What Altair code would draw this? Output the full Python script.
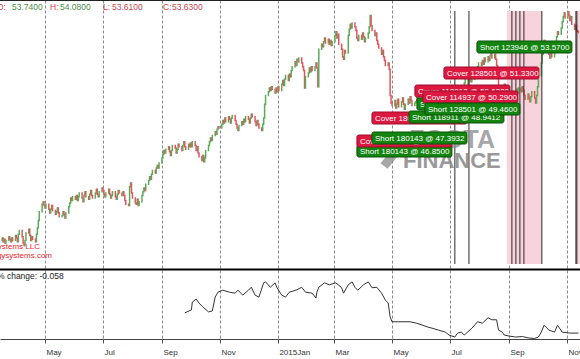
import altair as alt
import pandas as pd

# ---------------- data ----------------
month_keys = ["2014-03", "2014-04", "2014-05", "2014-06", "2014-07", "2014-08", "2014-09",
              "2014-10", "2014-11", "2014-12", "2015-01", "2015-02", "2015-03", "2015-04",
              "2015-05", "2015-06", "2015-07", "2015-08", "2015-09", "2015-10", "2015-11"]

closes_by_month = [
    [37.0, 37.2, 36.9, 37.1, 36.8, 37.0, 37.3, 37.1, 36.9, 37.2, 37.0, 37.4],
    [37.2, 36.9, 37.5, 37.8, 37.3, 36.8, 36.6, 37.0, 37.6, 37.9, 37.4, 37.0, 37.3, 37.1, 36.9,
     37.5, 38.0, 38.6, 39.3, 39.9, 40.1, 39.8],
    [39.6, 39.9, 39.5, 39.2, 39.5, 39.8, 39.4, 39.1, 39.3, 39.6, 39.2, 38.9, 39.0, 39.3, 39.1,
     38.8, 39.2, 39.7, 40.0, 40.4, 40.2, 40.5],
    [40.3, 40.6, 40.2, 40.5, 40.8, 40.4, 40.1, 40.6, 40.9, 40.5, 40.3, 40.7, 41.0, 40.6, 40.4,
     40.8, 41.1, 40.7, 40.5, 40.9, 41.2],
    [41.0, 40.7, 40.5, 40.8, 41.1, 40.7, 40.4, 40.6, 40.9, 40.5, 40.3, 40.7, 41.0, 40.8, 40.6,
     40.9, 40.6, 40.2, 39.9, 39.8, 41.3, 41.6, 40.8],
    [40.4, 40.0, 39.9, 40.3, 39.8, 40.1, 40.6, 40.9, 41.2, 41.0, 41.5, 41.8, 42.1, 41.9, 42.3,
     42.6, 42.4, 42.8, 43.0, 42.8, 43.2],
    [43.6, 43.9, 44.2, 44.0, 44.3, 44.5, 44.1, 43.8, 44.2, 44.6, 44.4, 44.0, 44.3, 44.7, 44.5,
     44.2, 44.6, 44.9, 44.5, 44.3, 44.7, 44.5],
    [44.8, 44.5, 44.9, 44.6, 44.2, 44.5, 44.0, 43.7, 43.4, 43.8, 43.3, 43.6, 44.2, 44.6, 44.9,
     45.2, 45.0, 45.4, 45.7, 45.5, 45.9, 46.1, 46.0],
    [46.3, 46.6, 46.4, 46.8, 46.5, 46.9, 46.7, 46.4, 46.8, 47.0, 46.6, 46.3, 46.0, 45.8, 46.2,
     46.5, 46.3, 46.7, 46.5, 46.9],
    [46.7, 46.4, 46.8, 47.1, 46.9, 46.5, 46.2, 46.6, 46.3, 46.0, 45.8, 46.3, 46.8, 47.9, 48.6,
     48.9, 49.2, 49.0, 49.3, 49.1, 48.8, 49.2, 48.9],
    [49.3, 49.0, 49.5, 49.8, 49.4, 49.9, 50.2, 49.8, 50.3, 50.1, 50.6, 50.9, 51.3, 51.0, 51.5,
     51.3, 51.6, 51.2, 50.9, 50.6, 49.2, 50.1],
    [50.4, 50.8, 50.5, 50.9, 50.6, 50.9, 51.2, 50.8, 49.3, 52.3, 52.7, 52.5, 52.9, 53.2, 52.8,
     53.1, 52.7, 53.0, 52.6, 52.9],
    [53.4, 53.7, 53.2, 53.5, 52.7, 52.3, 51.7, 51.5, 52.2, 52.0, 53.4, 53.9, 54.3, 54.0, 54.4,
     54.1, 53.8, 53.2, 53.0, 53.4, 53.1, 53.6],
    [53.3, 52.9, 53.2, 53.6, 54.1, 55.0, 54.2, 53.8, 53.4, 53.6, 53.0, 52.7, 52.4, 51.9, 52.2,
     51.7, 51.4, 51.0, 51.2, 50.7, 48.6, 48.0],
    [47.8, 48.2, 47.6, 47.9, 48.3, 47.7, 48.1, 48.4, 47.9, 47.5, 47.9, 48.3, 48.0, 48.5, 48.2,
     47.8, 48.0, 48.1, 48.6, 48.3, 48.7],
    [48.4, 48.9, 48.5, 48.1, 48.6, 49.0, 48.7, 48.3, 48.8, 49.1, 48.6, 48.9, 49.2, 48.8, 48.4,
     48.0, 48.5, 48.9, 48.6, 48.2, 47.6, 47.9],
    [48.2, 48.5, 48.0, 47.6, 47.9, 47.3, 47.8, 48.4, 48.9, 49.3, 49.1, 49.6, 49.9, 49.5, 49.8,
     50.1, 49.7, 49.9, 50.3, 50.6, 50.4, 50.9, 51.2],
    [51.0, 51.4, 51.1, 51.6, 51.3, 51.7, 51.4, 51.8, 52.0, 51.6, 51.9, 51.5, 51.0, 50.2, 49.1,
     48.3, 47.9, 48.8, 49.5, 49.2, 48.9],
    [48.5, 48.9, 48.6, 48.2, 48.4, 48.7, 49.1, 48.8, 49.2, 48.9, 49.3, 49.0, 48.6, 48.3, 48.7,
     48.4, 48.1, 48.5, 48.9, 48.4, 48.0, 48.6],
    [49.3, 50.2, 51.2, 51.9, 52.6, 53.0, 52.7, 52.3, 51.9, 51.6, 52.0, 51.7, 52.2, 52.8, 53.3,
     53.7, 53.5, 54.0, 54.5, 54.9, 55.2, 54.8],
    [55.3, 55.0, 54.6, 54.9, 54.3, 53.9, 54.2, 53.8, 53.74, 53.63],
]
first_open = 36.8
series_start = "2014-03-14"
series_end = "2015-11-13"

header_names = ["O:", "H:", "L:", "C:"]
header_values = ["53.7400", "54.0800", "53.6100", "53.6300"]

tick_months = [(2014, 3), (2014, 5), (2014, 7), (2014, 9), (2014, 11), (2015, 1),
               (2015, 3), (2015, 5), (2015, 7), (2015, 9), (2015, 11)]

pct_dates = ["2014-09-25", "2014-10-02", "2014-10-03", "2014-10-07", "2014-10-10", "2014-10-14",
             "2014-10-20", "2014-10-24", "2014-10-27", "2014-10-30", "2014-11-04", "2014-11-11",
             "2014-11-17", "2014-11-20", "2014-11-25", "2014-12-01", "2014-12-04", "2014-12-08",
             "2014-12-12", "2014-12-17", "2014-12-19", "2014-12-24", "2014-12-29", "2014-12-31",
             "2015-01-05", "2015-01-09", "2015-01-13", "2015-01-20", "2015-01-26", "2015-01-30",
             "2015-02-06", "2015-02-10", "2015-02-11", "2015-02-13", "2015-02-19", "2015-02-24",
             "2015-03-03", "2015-03-09", "2015-03-11", "2015-03-16", "2015-03-20", "2015-03-23",
             "2015-03-26", "2015-04-01", "2015-04-06", "2015-04-10", "2015-04-15", "2015-04-20",
             "2015-04-24", "2015-04-27", "2015-04-29", "2015-05-01", "2015-05-08", "2015-05-20",
             "2015-05-27", "2015-06-08", "2015-06-12", "2015-06-19", "2015-06-26", "2015-06-30",
             "2015-07-06", "2015-07-09", "2015-07-13", "2015-07-16", "2015-07-24", "2015-07-30",
             "2015-08-04", "2015-08-10", "2015-08-14", "2015-08-19", "2015-08-21", "2015-08-25",
             "2015-08-27", "2015-09-01", "2015-09-08", "2015-09-15", "2015-09-22", "2015-09-28",
             "2015-10-02", "2015-10-05", "2015-10-08", "2015-10-13", "2015-10-19", "2015-10-22",
             "2015-10-27", "2015-11-04", "2015-11-13"]
pct_values = [-0.017, -0.011, 0.005, 0.011, 0.003, -0.005,
              -0.015, -0.013, 0.015, 0.025, 0.029, 0.025,
              0.023, 0.029, 0.019, 0.029, 0.035, 0.019,
              0.015, 0.044, 0.046, 0.035, 0.044, 0.034,
              0.019, 0.015, 0.025, 0.029, 0.035, 0.025,
              0.023, 0.013, 0.025, 0.035, 0.044, 0.040,
              0.044, 0.034, 0.023, 0.040, 0.046, 0.035,
              0.029, 0.040, 0.046, 0.034, 0.035, 0.023,
              0.009, 0.003, -0.025, -0.035, -0.035, -0.035,
              -0.038, -0.046, -0.048, -0.052, -0.056, -0.062,
              -0.066, -0.058, -0.056, -0.062, -0.048, -0.035,
              -0.038, -0.027, -0.031, -0.031, -0.052, -0.056,
              -0.062, -0.064, -0.066, -0.065, -0.068, -0.069,
              -0.066, -0.056, -0.042, -0.052, -0.056, -0.042,
              -0.056, -0.058, -0.058]
pct_caption = "% change: -0.058"

trade_dates = ["2015-07-06T02:00", "2015-07-20T22:00", "2015-09-04T02:00", "2015-09-08T07:00",
               "2015-09-12T12:00", "2015-09-16T17:00", "2015-10-05T14:00", "2015-11-10T10:00",
               "2015-11-11T10:00"]
shade_starts = ["2015-08-29T19:00", "2015-11-10T10:00"]
shade_ends = ["2015-10-05T14:00", "2015-11-14T17:00"]

# annotation boxes, listed bottom-most first; date/price = box top-left anchor
label_texts = ["Short 180143 @ 46.8500", "Cover 180143 @ 46.1200", "Short 180143 @ 47.3932",
               "Cover 180143 @ 47.9600", "Short 118911 @ 48.9412", "Short 114937 @ 48.7700",
               "Cover 118912 @ 50.6200", "Cover 114937 @ 50.2900", "Short 128501 @ 49.4600",
               "Cover 128501 @ 51.3300", "Short 123946 @ 53.5700"]
label_kinds = ["Short", "Cover", "Short", "Cover", "Short", "Short", "Cover", "Cover", "Short",
               "Cover", "Short"]
label_dates = ["2015-03-25T02:00", "2015-03-25T02:00", "2015-04-09T22:00", "2015-04-09T22:00",
               "2015-05-18T19:00", "2015-05-27T05:00", "2015-05-25T02:00", "2015-06-02T12:00",
               "2015-06-04T14:00", "2015-06-24T14:00", "2015-07-29T07:00"]
label_prices = [44.64, 45.44, 45.68, 47.28, 47.36, 48.40, 49.44, 48.96, 48.00, 50.88, 52.96]

company_lines = ["Technology Systems LLC", "www.technologysystems.com"]
watermark_lines = ["ZOOTA", "FINANCE"]

# ---------------- build tables ----------------
rows = []
prev = first_open
s0, s1 = pd.Timestamp(series_start), pd.Timestamp(series_end)
for key, vals in zip(month_keys, closes_by_month):
    per = pd.Period(key, freq="M")
    days = pd.bdate_range(max(per.start_time, s0), min(per.end_time.normalize(), s1))
    for d, c in zip(days, vals):
        rows.append({"date": d, "open": prev, "close": c, "dir": "up" if c >= prev else "down"})
        prev = c
candles = pd.DataFrame(rows)

pct_df = pd.DataFrame({"date": pd.to_datetime(pct_dates), "pct": pct_values})
trades_df = pd.DataFrame({"date": pd.to_datetime(trade_dates)})
shade_df = pd.DataFrame({"start": pd.to_datetime(shade_starts), "end": pd.to_datetime(shade_ends)})
labels_df = pd.DataFrame({"order": list(range(len(label_texts))), "text": label_texts,
                          "kind": label_kinds, "date": pd.to_datetime(label_dates),
                          "price": label_prices})

# ---------------- scales / axes ----------------
W, H = 580, 339
x_scale = alt.Scale(domain=[alt.DateTime(year=2014, month=3, date=14, hours=17),
                            alt.DateTime(year=2015, month=11, date=14, hours=17)])
x_axis = alt.Axis(
    values=[alt.DateTime(year=y, month=m, date=1) for y, m in tick_months],
    grid=True, gridDash=[3, 2], gridColor="#8a8a8a", gridWidth=1,
    labelExpr="month(datum.value) == 0 ? timeFormat(datum.value, '%Y%b') : timeFormat(datum.value, '%b')",
    labelAlign="left", labelBaseline="top", labelPadding=5, labelOffset=1,
    labelFontSize=8, labelFont="Liberation Sans", labelColor="#333333",
    labelFlush=False, labelOverlap=False, labelBound=False,
    tickSize=4, tickColor="#555555", domainColor="#444444", domainWidth=1, title=None)

price_scale = alt.Scale(domain=[29.12, 56.24], nice=False, zero=False)
pct_scale = alt.Scale(domain=[-0.07, 0.61783], nice=False, zero=False)


def X(field):
    return alt.X(field, type="temporal", scale=x_scale, axis=x_axis)


kind_fill = alt.Scale(domain=["Short", "Cover"], range=["#12840f", "#dc1840"])
kind_stroke = alt.Scale(domain=["Short", "Cover"], range=["#0a520a", "#9a0f2c"])

layers = []

# shaded periods
layers.append(alt.Chart(shade_df).mark_rect(color="#f9d3db").encode(
    x=X("start"), x2="end", y=alt.value(11), y2=alt.value(264)))

# candles
layers.append(alt.Chart(candles).mark_rule(strokeWidth=1.5, strokeCap="square").encode(
    x=X("date"),
    y=alt.Y("open:Q", scale=price_scale, axis=None), y2="close:Q",
    color=alt.Color("dir:N", scale=alt.Scale(domain=["up", "down"], range=["#5aab5a", "#e2545b"]),
                    legend=None)))

# trade lines
layers.append(alt.Chart(trades_df).mark_rule(color="#2b2b2b", strokeWidth=1).encode(
    x=X("date"), y=alt.value(11), y2=alt.value(264)))

# % change line
layers.append(alt.Chart(pct_df).mark_line(color="#333333", strokeWidth=1).encode(
    x=X("date"), y=alt.Y("pct:Q", scale=pct_scale, axis=None)))

# panel separator and top border
layers.append(alt.Chart(pd.DataFrame({"a": [0]})).mark_rule(color="black", strokeWidth=2).encode(
    x=alt.value(0), x2=alt.value(W), y=alt.value(269.5)))
layers.append(alt.Chart(pd.DataFrame({"a": [0]})).mark_rule(color="#222222", strokeWidth=1).encode(
    x=alt.value(0), x2=alt.value(W), y=alt.value(0.5)))

# header OHLC
head_x_names = [-3, 50, 103, 163]
head_x_vals = [12, 60, 112, 172]
val_colors = ["#4e8d4e", "#4e8d4e", "#c9474f", "#c9474f"]
for i in range(4):
    layers.append(alt.Chart(pd.DataFrame({"t": [header_names[i]]})).mark_text(
        align="left", baseline="alphabetic", fontSize=8.5, font="Liberation Sans",
        color="#e0343c").encode(x=alt.value(head_x_names[i]), y=alt.value(9.5), text="t:N"))
    layers.append(alt.Chart(pd.DataFrame({"t": [header_values[i]]})).mark_text(
        align="left", baseline="alphabetic", fontSize=8.5, font="Liberation Sans",
        color=val_colors[i]).encode(x=alt.value(head_x_vals[i]), y=alt.value(9.5), text="t:N"))

# company text (bottom-left, cut at the edge)
layers.append(alt.Chart(pd.DataFrame({"t": [company_lines[0]]})).mark_text(
    align="right", baseline="alphabetic", fontSize=8, font="Liberation Sans", color="#e8262e"
).encode(x=alt.value(40), y=alt.value(249), text="t:N"))
layers.append(alt.Chart(pd.DataFrame({"t": [company_lines[1]]})).mark_text(
    align="right", baseline="alphabetic", fontSize=8, font="Liberation Sans", color="#e8262e"
).encode(x=alt.value(52), y=alt.value(257.5), text="t:N"))

# watermark
layers.append(alt.Chart(pd.DataFrame({"t": [watermark_lines[0]]})).mark_text(
    align="right", baseline="alphabetic", fontSize=25, fontWeight="bold", font="Liberation Sans",
    color="#8a8a8a", opacity=0.75).encode(x=alt.value(495), y=alt.value(148), text="t:N"))
layers.append(alt.Chart(pd.DataFrame({"t": [watermark_lines[1]]})).mark_text(
    align="left", baseline="alphabetic", fontSize=22, fontWeight="bold", font="Liberation Sans",
    color="#808080", opacity=0.8).encode(x=alt.value(403), y=alt.value(167.5), text="t:N"))
layers.append(alt.Chart(pd.DataFrame({"a": [0]})).mark_rule(
    color="#8a8a8a", strokeWidth=9, opacity=0.75).encode(
    x=alt.value(384), x2=alt.value(398), y=alt.value(166), y2=alt.value(149)))

# annotation boxes
for i in range(len(label_texts)):
    sub = alt.Chart(labels_df).transform_filter(alt.datum.order == i)
    layers.append(sub.mark_rect(x2Offset=95, y2Offset=12, cornerRadius=2, strokeWidth=1).encode(
        x=X("date"), x2="date", y=alt.Y("price:Q", scale=price_scale, axis=None), y2="price:Q",
        fill=alt.Fill("kind:N", scale=kind_fill, legend=None),
        stroke=alt.Stroke("kind:N", scale=kind_stroke, legend=None)))
    layers.append(sub.mark_text(align="left", baseline="middle", dx=3, dy=6.5, fontSize=8,
                                font="Liberation Sans", color="white").encode(
        x=X("date"), y=alt.Y("price:Q", scale=price_scale, axis=None), text="text:N"))

# % change caption
layers.append(alt.Chart(pd.DataFrame({"t": [pct_caption]})).mark_text(
    align="left", baseline="alphabetic", fontSize=8.5, font="Liberation Sans", color="#222222"
).encode(x=alt.value(-3), y=alt.value(279), text="t:N"))

chart = alt.layer(*layers).resolve_scale(y="independent").properties(
    width=W, height=H,
    autosize=alt.AutoSizeParams(type="none"),
    padding={"left": 0, "top": 0, "right": 0, "bottom": 20},
).configure_view(stroke=None)

chart.save("out.html", embed_options={"renderer": "svg", "actions": False})
